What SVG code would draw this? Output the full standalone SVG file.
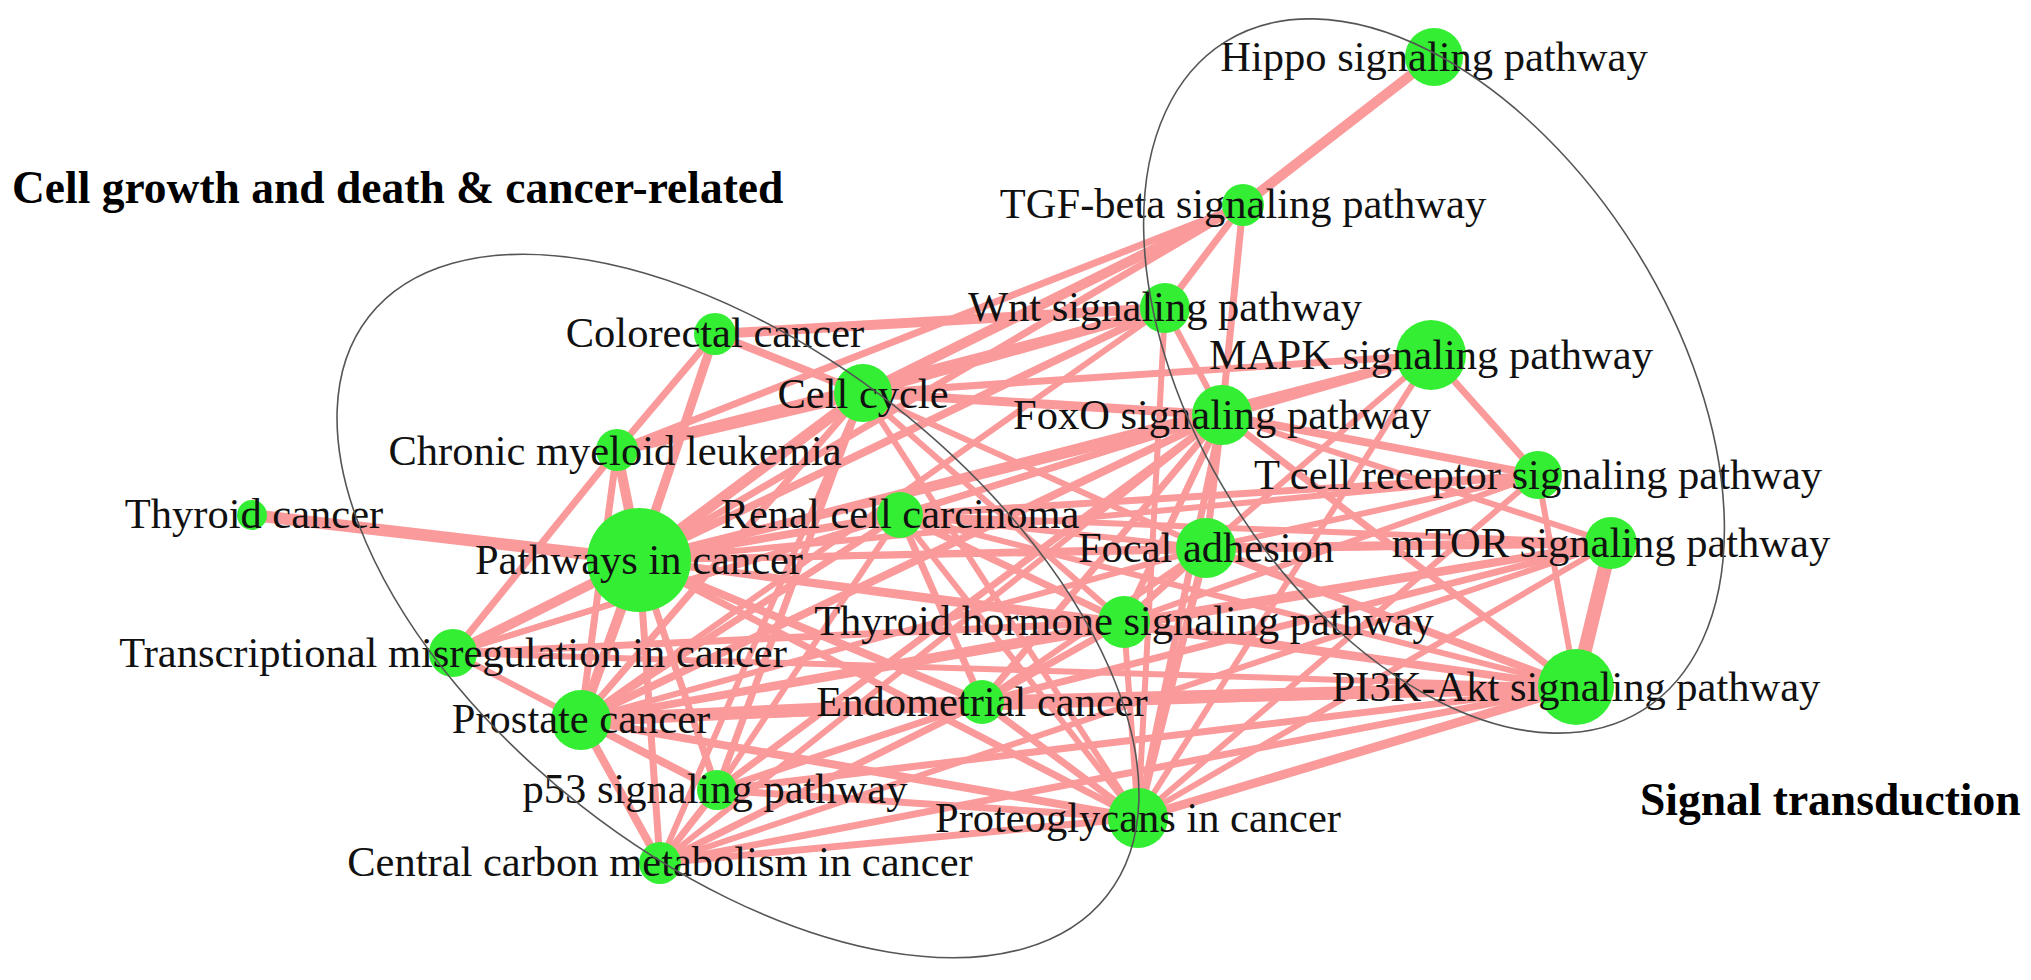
<svg xmlns="http://www.w3.org/2000/svg" width="2031" height="980" viewBox="0 0 2031 980">
<style>
.e{stroke:#FA9A9A;fill:none}
.n{fill:#33EE33}
.l{font-family:"Liberation Serif","Times New Roman",serif;font-size:42.5px;fill:#111;text-anchor:middle}
.t{font-family:"Liberation Serif","Times New Roman",serif;font-size:45.5px;font-weight:bold;fill:#000}
.g{fill:none;stroke:#555;stroke-width:1.6}
</style>
<rect width="2031" height="980" fill="#fff"/>
<g id="edges" class="e">
<line x1="1434" y1="57" x2="1243" y2="205" stroke-width="10"/>
<line x1="1243" y1="205" x2="1165" y2="308" stroke-width="7"/>
<line x1="1243" y1="205" x2="1222" y2="415" stroke-width="7"/>
<line x1="1243" y1="205" x2="863" y2="393" stroke-width="10"/>
<line x1="1243" y1="205" x2="617" y2="450" stroke-width="7"/>
<line x1="1243" y1="205" x2="639" y2="560" stroke-width="7"/>
<line x1="1165" y1="308" x2="715" y2="334" stroke-width="10"/>
<line x1="1165" y1="308" x2="863" y2="393" stroke-width="10"/>
<line x1="1165" y1="308" x2="617" y2="450" stroke-width="7"/>
<line x1="1165" y1="308" x2="639" y2="560" stroke-width="8"/>
<line x1="1165" y1="308" x2="581" y2="720" stroke-width="6"/>
<line x1="1165" y1="308" x2="1222" y2="415" stroke-width="6"/>
<line x1="1165" y1="308" x2="1138" y2="818" stroke-width="6"/>
<line x1="1431" y1="355" x2="1222" y2="415" stroke-width="10"/>
<line x1="1431" y1="355" x2="1538" y2="475" stroke-width="7"/>
<line x1="1431" y1="355" x2="863" y2="393" stroke-width="7"/>
<line x1="1431" y1="355" x2="1138" y2="818" stroke-width="6"/>
<line x1="1431" y1="355" x2="1206" y2="548" stroke-width="6"/>
<line x1="1431" y1="355" x2="639" y2="560" stroke-width="6"/>
<line x1="1222" y1="415" x2="863" y2="393" stroke-width="9"/>
<line x1="1222" y1="415" x2="639" y2="560" stroke-width="9"/>
<line x1="1222" y1="415" x2="900" y2="515" stroke-width="7"/>
<line x1="1222" y1="415" x2="581" y2="720" stroke-width="8"/>
<line x1="1222" y1="415" x2="717" y2="790" stroke-width="7"/>
<line x1="1222" y1="415" x2="660" y2="863" stroke-width="6"/>
<line x1="1222" y1="415" x2="982" y2="702" stroke-width="7"/>
<line x1="1222" y1="415" x2="1124" y2="622" stroke-width="7"/>
<line x1="1222" y1="415" x2="1206" y2="548" stroke-width="7"/>
<line x1="1222" y1="415" x2="1138" y2="818" stroke-width="7"/>
<line x1="1222" y1="415" x2="1576" y2="687" stroke-width="7"/>
<line x1="1222" y1="415" x2="1538" y2="475" stroke-width="8"/>
<line x1="1222" y1="415" x2="1611" y2="543" stroke-width="6"/>
<line x1="1222" y1="415" x2="453" y2="653" stroke-width="6"/>
<line x1="1538" y1="475" x2="900" y2="515" stroke-width="7"/>
<line x1="1538" y1="475" x2="639" y2="560" stroke-width="6"/>
<line x1="1538" y1="475" x2="1206" y2="548" stroke-width="6"/>
<line x1="1538" y1="475" x2="1124" y2="622" stroke-width="6"/>
<line x1="1538" y1="475" x2="1576" y2="687" stroke-width="6"/>
<line x1="1538" y1="475" x2="1138" y2="818" stroke-width="6"/>
<line x1="1611" y1="543" x2="1576" y2="687" stroke-width="14"/>
<line x1="1611" y1="543" x2="1206" y2="548" stroke-width="9"/>
<line x1="1611" y1="543" x2="1124" y2="622" stroke-width="7"/>
<line x1="1611" y1="543" x2="982" y2="702" stroke-width="7"/>
<line x1="1611" y1="543" x2="581" y2="720" stroke-width="7"/>
<line x1="1611" y1="543" x2="1138" y2="818" stroke-width="6"/>
<line x1="1611" y1="543" x2="639" y2="560" stroke-width="6"/>
<line x1="1611" y1="543" x2="900" y2="515" stroke-width="6"/>
<line x1="1611" y1="543" x2="660" y2="863" stroke-width="6"/>
<line x1="1206" y1="548" x2="1576" y2="687" stroke-width="8"/>
<line x1="1206" y1="548" x2="1138" y2="818" stroke-width="8"/>
<line x1="1206" y1="548" x2="1124" y2="622" stroke-width="7"/>
<line x1="1206" y1="548" x2="639" y2="560" stroke-width="7"/>
<line x1="1206" y1="548" x2="863" y2="393" stroke-width="6"/>
<line x1="1206" y1="548" x2="900" y2="515" stroke-width="6"/>
<line x1="1206" y1="548" x2="581" y2="720" stroke-width="6"/>
<line x1="1206" y1="548" x2="982" y2="702" stroke-width="6"/>
<line x1="1124" y1="622" x2="639" y2="560" stroke-width="7"/>
<line x1="1124" y1="622" x2="453" y2="653" stroke-width="7"/>
<line x1="1124" y1="622" x2="1576" y2="687" stroke-width="7"/>
<line x1="1124" y1="622" x2="900" y2="515" stroke-width="7"/>
<line x1="1124" y1="622" x2="982" y2="702" stroke-width="7"/>
<line x1="1124" y1="622" x2="581" y2="720" stroke-width="7"/>
<line x1="1124" y1="622" x2="1138" y2="818" stroke-width="6"/>
<line x1="1124" y1="622" x2="863" y2="393" stroke-width="6"/>
<line x1="1576" y1="687" x2="982" y2="702" stroke-width="13"/>
<line x1="1576" y1="687" x2="581" y2="720" stroke-width="8"/>
<line x1="1576" y1="687" x2="1138" y2="818" stroke-width="9"/>
<line x1="1576" y1="687" x2="717" y2="790" stroke-width="7"/>
<line x1="1576" y1="687" x2="660" y2="863" stroke-width="7"/>
<line x1="1576" y1="687" x2="639" y2="560" stroke-width="7"/>
<line x1="1576" y1="687" x2="900" y2="515" stroke-width="6"/>
<line x1="1576" y1="687" x2="453" y2="653" stroke-width="6"/>
<line x1="1138" y1="818" x2="581" y2="720" stroke-width="8"/>
<line x1="1138" y1="818" x2="717" y2="790" stroke-width="7"/>
<line x1="1138" y1="818" x2="660" y2="863" stroke-width="7"/>
<line x1="1138" y1="818" x2="982" y2="702" stroke-width="7"/>
<line x1="1138" y1="818" x2="639" y2="560" stroke-width="7"/>
<line x1="1138" y1="818" x2="900" y2="515" stroke-width="6"/>
<line x1="1138" y1="818" x2="863" y2="393" stroke-width="6"/>
<line x1="715" y1="334" x2="863" y2="393" stroke-width="8"/>
<line x1="715" y1="334" x2="617" y2="450" stroke-width="7"/>
<line x1="715" y1="334" x2="639" y2="560" stroke-width="9"/>
<line x1="715" y1="334" x2="581" y2="720" stroke-width="6"/>
<line x1="863" y1="393" x2="617" y2="450" stroke-width="12"/>
<line x1="863" y1="393" x2="639" y2="560" stroke-width="11"/>
<line x1="863" y1="393" x2="717" y2="790" stroke-width="7"/>
<line x1="863" y1="393" x2="581" y2="720" stroke-width="7"/>
<line x1="863" y1="393" x2="660" y2="863" stroke-width="6"/>
<line x1="617" y1="450" x2="639" y2="560" stroke-width="10"/>
<line x1="617" y1="450" x2="453" y2="653" stroke-width="7"/>
<line x1="617" y1="450" x2="581" y2="720" stroke-width="7"/>
<line x1="252" y1="515" x2="639" y2="560" stroke-width="12"/>
<line x1="639" y1="560" x2="900" y2="515" stroke-width="8"/>
<line x1="639" y1="560" x2="453" y2="653" stroke-width="10"/>
<line x1="639" y1="560" x2="581" y2="720" stroke-width="10"/>
<line x1="639" y1="560" x2="717" y2="790" stroke-width="7"/>
<line x1="639" y1="560" x2="660" y2="863" stroke-width="7"/>
<line x1="639" y1="560" x2="982" y2="702" stroke-width="8"/>
<line x1="900" y1="515" x2="581" y2="720" stroke-width="7"/>
<line x1="900" y1="515" x2="982" y2="702" stroke-width="7"/>
<line x1="900" y1="515" x2="717" y2="790" stroke-width="6"/>
<line x1="900" y1="515" x2="453" y2="653" stroke-width="6"/>
<line x1="453" y1="653" x2="581" y2="720" stroke-width="6"/>
<line x1="581" y1="720" x2="982" y2="702" stroke-width="13"/>
<line x1="581" y1="720" x2="717" y2="790" stroke-width="8"/>
<line x1="581" y1="720" x2="660" y2="863" stroke-width="8"/>
<line x1="982" y1="702" x2="717" y2="790" stroke-width="7"/>
<line x1="982" y1="702" x2="660" y2="863" stroke-width="7"/>
<line x1="717" y1="790" x2="660" y2="863" stroke-width="7"/>
</g>
<g id="node-hippo"><circle class="n" cx="1434" cy="57" r="29"/><text class="l" x="1434" y="71">Hippo signaling pathway</text></g>
<g id="node-tgf"><circle class="n" cx="1243" cy="205" r="21"/><text class="l" x="1243" y="218">TGF-beta signaling pathway</text></g>
<g id="node-wnt"><circle class="n" cx="1165" cy="308" r="25"/><text class="l" x="1165" y="321">Wnt signaling pathway</text></g>
<g id="node-mapk"><circle class="n" cx="1431" cy="355" r="35"/><text class="l" x="1431" y="369">MAPK signaling pathway</text></g>
<g id="node-foxo"><circle class="n" cx="1222" cy="415" r="30"/><text class="l" x="1222" y="429">FoxO signaling pathway</text></g>
<g id="node-tcr"><circle class="n" cx="1538" cy="475" r="24"/><text class="l" x="1538" y="489">T cell receptor signaling pathway</text></g>
<g id="node-mtor"><circle class="n" cx="1611" cy="543" r="26"/><text class="l" x="1611" y="557">mTOR signaling pathway</text></g>
<g id="node-focal"><circle class="n" cx="1206" cy="548" r="30"/><text class="l" x="1206" y="562">Focal adhesion</text></g>
<g id="node-thyhorm"><circle class="n" cx="1124" cy="622" r="26"/><text class="l" x="1124" y="635">Thyroid hormone signaling pathway</text></g>
<g id="node-pi3k"><circle class="n" cx="1576" cy="687" r="38"/><text class="l" x="1576" y="701">PI3K-Akt signaling pathway</text></g>
<g id="node-proteo"><circle class="n" cx="1138" cy="818" r="30"/><text class="l" x="1138" y="832">Proteoglycans in cancer</text></g>
<g id="node-colorectal"><circle class="n" cx="715" cy="334" r="21"/><text class="l" x="715" y="347">Colorectal cancer</text></g>
<g id="node-cellcycle"><circle class="n" cx="863" cy="393" r="29"/><text class="l" x="863" y="408">Cell cycle</text></g>
<g id="node-cml"><circle class="n" cx="617" cy="450" r="21"/><text class="l" x="615" y="465">Chronic myeloid leukemia</text></g>
<g id="node-thyroid"><circle class="n" cx="252" cy="515" r="15"/><text class="l" x="254" y="528">Thyroid cancer</text></g>
<g id="node-pathways"><circle class="n" cx="639" cy="560" r="52"/><text class="l" x="639" y="574">Pathways in cancer</text></g>
<g id="node-renal"><circle class="n" cx="900" cy="515" r="23"/><text class="l" x="900" y="528">Renal cell carcinoma</text></g>
<g id="node-transcr"><circle class="n" cx="453" cy="653" r="24"/><text class="l" x="453" y="667">Transcriptional misregulation in cancer</text></g>
<g id="node-prostate"><circle class="n" cx="581" cy="720" r="30"/><text class="l" x="581" y="733">Prostate cancer</text></g>
<g id="node-endo"><circle class="n" cx="982" cy="702" r="22"/><text class="l" x="982" y="716">Endometrial cancer</text></g>
<g id="node-p53"><circle class="n" cx="717" cy="790" r="20"/><text class="l" x="715" y="803">p53 signaling pathway</text></g>
<g id="node-central"><circle class="n" cx="660" cy="863" r="21"/><text class="l" x="660" y="876">Central carbon metabolism in cancer</text></g>
<g id="groups">
<ellipse class="g" cx="738" cy="606" rx="469" ry="254" transform="rotate(38.1 738 606)"/>
<ellipse class="g" cx="1434" cy="376" rx="394" ry="238" transform="rotate(58 1434 376)"/>
<text class="t" x="12" y="203">Cell growth and death &amp; cancer-related</text>
<text class="t" x="1640" y="815">Signal transduction</text>
</g>
</svg>
